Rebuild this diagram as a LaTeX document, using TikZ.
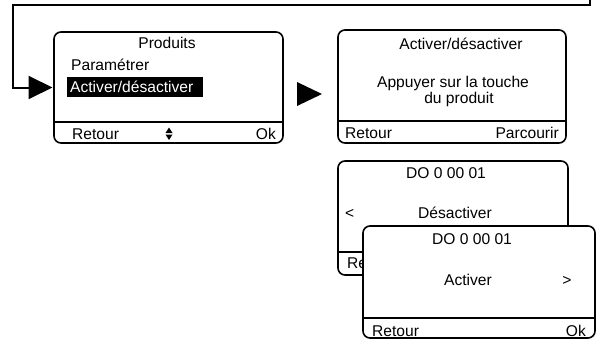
\documentclass[tikz,border=0pt]{standalone}
\usepackage{fontspec}
\setmainfont{Liberation Sans}
\usetikzlibrary{arrows.meta,calc}
\begin{document}
\begin{tikzpicture}[x=1pt,y=-1pt,
  screen/.style={draw=black, line width=1.6pt, rounded corners=7pt, fill=white, inner sep=0pt, outer sep=0pt},
  sepline/.style={line width=1.6pt},
  conn/.style={line width=2pt},
  txt/.style={inner sep=0pt, font=\fontsize{15.6}{18}\selectfont},
  tl/.style={txt, anchor=base west},
  tc/.style={txt, anchor=base},
  tr/.style={txt, anchor=base east}]
\useasboundingbox (0,0) rectangle (603,340);

% Screen 1
\node[screen, minimum width=229pt, minimum height=111pt, anchor=north west] (b1) at (54,32) {};
\draw[sepline] ($(b1.south west)+(0,-21)$) -- ($(b1.south east)+(0,-21)$);
\node[tc] (b1t) at (167,48.5) {Produits};
\node[tl] (b1p) at (71,70.5) {Paramétrer};
\node[fill=black, inner sep=0pt, minimum width=136pt, minimum height=20pt, anchor=north west] (hl) at (67,77) {};
\node[tl, text=white] (b1a) at (70,92.5) {Activer/désactiver};
\node[tl] (b1r) at (72,139.5) {Retour};
\node[tr] (b1o) at (276,139.5) {Ok};
\fill (165.5,133) -- (172.5,133) -- (169,127.5) -- cycle;
\fill (165.5,134.5) -- (172.5,134.5) -- (169,140) -- cycle;

% Screen 2
\node[screen, minimum width=228pt, minimum height=113pt, anchor=north west] (b2) at (338,30) {};
\draw[sepline] ($(b2.south west)+(0,-22)$) -- ($(b2.south east)+(0,-22)$);
\node[tc] (b2t) at (461,49.5) {Activer/désactiver};
\node[tc] (b2a) at (453,87) {Appuyer sur la touche};
\node[tc] (b2b) at (459,103) {du produit};
\node[tl] (b2r) at (345,138.5) {Retour};
\node[tr] (b2p) at (559,138.5) {Parcourir};

% Screen 3 (back)
\node[screen, minimum width=230pt, minimum height=114pt, anchor=north west] (b3) at (338,161) {};
\draw[sepline] ($(b3.south west)+(0,-23)$) -- ($(b3.south east)+(0,-23)$);
\node[tc] (b3t) at (446,178.5) {DO 0 00 01};
\node[tl] (b3l) at (345,218.5) {<};
\node[tc] (b3d) at (455,218.5) {Désactiver};
\node[tl] (b3r) at (347,268.5) {Retour};

% Screen 4 (front)
\node[screen, minimum width=232pt, minimum height=112pt, anchor=north west] (b4) at (363,226) {};
\draw[sepline] ($(b4.south west)+(0,-20)$) -- ($(b4.south east)+(0,-20)$);
\node[tc] (b4t) at (472,244.5) {DO 0 00 01};
\node[tc] (b4a) at (468,285.5) {Activer};
\node[tc] (b4g) at (567,285.5) {>};
\node[tl] (b4r) at (372,336) {Retour};
\node[tr] (b4o) at (586,336) {Ok};

% Arrow between screens 1 and 2
\fill (297,82) -- (322,94) -- (297,106) -- cycle;

% Loop-back connector
\coordinate (start) at (590,0);
\coordinate (corner) at (13,5);
\draw[conn, -{Triangle[length=24pt,width=23pt]}, shorten >=1.5pt] (start) |- (corner) |- (b1.west);
\end{tikzpicture}
\end{document}
